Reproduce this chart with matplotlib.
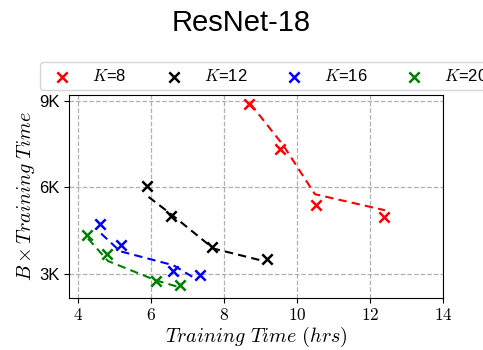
import numpy as np
import matplotlib
matplotlib.use('Agg')
import matplotlib.pyplot as plt

plt.rcParams['font.family'] = ['Liberation Sans', 'DejaVu Sans']
plt.rcParams['mathtext.fontset'] = 'cm'

# measured points (hrs, B x time)
k8_x = [8.67, 9.53, 10.51, 12.39]
k8_y = [8885, 7321, 5375, 4957]
k12_x = [5.90, 6.55, 7.68, 9.17]
k12_y = [6045, 4992, 3925, 3522]
k16_x = [4.60, 5.18, 6.61, 7.34]
k16_y = [4714, 3984, 3080, 2966]
k20_x = [4.24, 4.79, 6.13, 6.79]
k20_y = [4332, 3672, 2733, 2594]

# dashed trend lines (do not pass exactly through the points)
k8_lx = [8.72, 9.62, 10.49, 12.41]
k8_ly = [8900, 7460, 5757, 5200]
k12_lx = [5.93, 6.55, 7.71, 9.08]
k12_ly = [5663, 5062, 3870, 3438]
k16_lx = [4.63, 5.15, 6.61, 7.21]
k16_ly = [4390, 3776, 3290, 2827]
k20_lx = [4.27, 4.82, 6.13, 6.75]
k20_ly = [4217, 3436, 2767, 2535]

series = [
    ('8', 'red', k8_x, k8_y, k8_lx, k8_ly),
    ('12', 'black', k12_x, k12_y, k12_lx, k12_ly),
    ('16', 'blue', k16_x, k16_y, k16_lx, k16_ly),
    ('20', 'green', k20_x, k20_y, k20_lx, k20_ly),
]

fig = plt.figure(figsize=(4.83, 3.5), dpi=100)
ax = fig.add_axes([69/483, 1-297.5/350, (443-69)/483, (297.5-94.5)/350])

for k, c, x, y, lx, ly in series:
    ax.plot(lx, ly, '--', color=c, lw=1.5, dashes=(4, 2.5))
    ax.scatter(x, y, marker='x', color=c, s=55, linewidths=1.8, label=r'$K$=' + k, zorder=3)

ax.set_xlim(3.75, 14)
ax.set_ylim(2170, 9220)
xt = [4, 6, 8, 10, 12, 14]
ax.set_xticks(xt)
ax.set_xticklabels([r'$%d$' % v for v in xt], fontsize=12.5)
yt = [3000, 6000, 9000]
ax.set_yticks(yt)
ax.set_yticklabels(['3K', '6K', '9K'], fontsize=12)
ax.grid(True, ls='--', color='#b0b0b0', lw=0.9)
ax.set_axisbelow(True)

ax.set_xlabel(r'$Training\ Time\ (hrs)$', fontsize=14.5, labelpad=1)
ax.set_ylabel(r'$B \times Training\ Time$', fontsize=14.5, labelpad=1)

fig.text(0.5, 0.935, 'ResNet-18', ha='center', va='center', fontsize=21)
fig.legend(loc='center left', bbox_to_anchor=(40/483, 1-76/350), ncol=4,
           fontsize=12, frameon=True, columnspacing=1.8, handletextpad=0.8,
           borderpad=0.35, borderaxespad=0, fancybox=True)

fig.savefig('out.png', dpi=100)
